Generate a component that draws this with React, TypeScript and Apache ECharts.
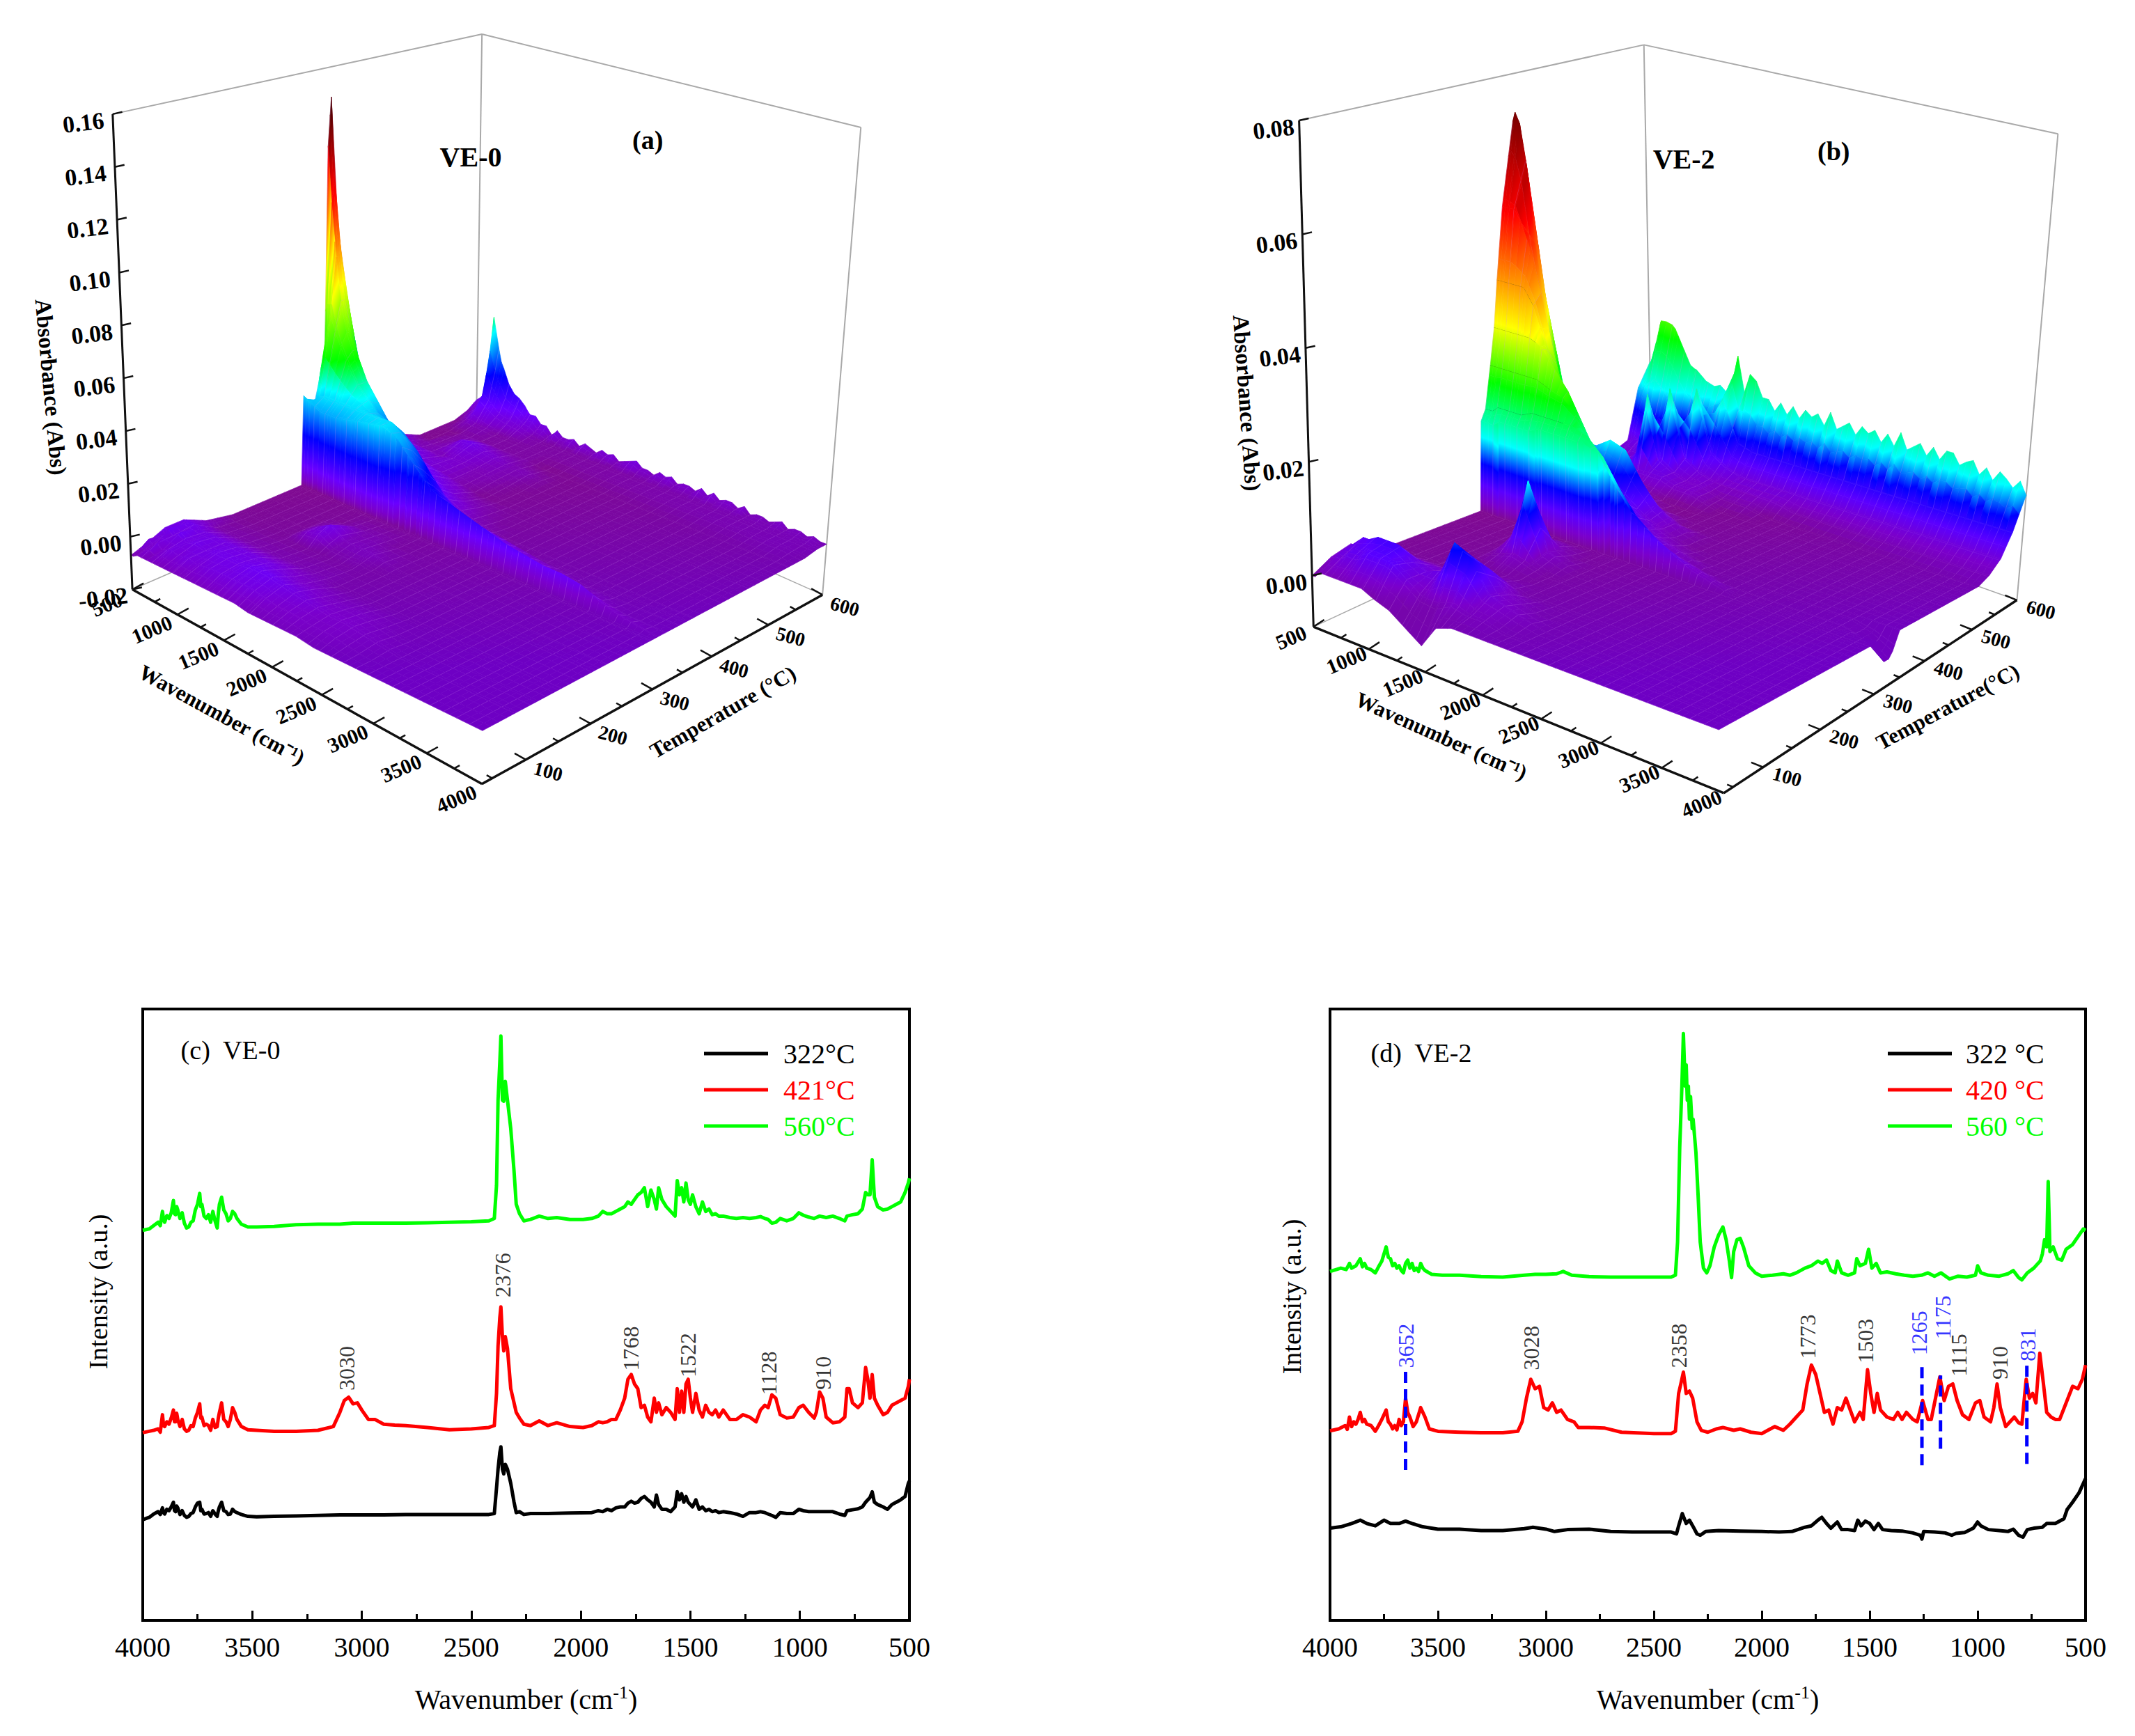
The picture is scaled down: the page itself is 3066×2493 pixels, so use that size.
import React, { useEffect, useRef } from "react";
import * as echarts from "echarts";

// ---------- 3D surface (a) VE-0 : absorbance above the sample plane ----------
const wnGrid = [500,528,570,623,675,763,850,955,1060,1200,1340,1480,1620,1760,1900,2075,2250,2425,2600,2775,2950,3125,3300,3475,3650,3825,4000];
const tempA = [35,58,86,114,148,188,205,221,261,292,298,304,320,339,349,355,363,388,425,464,498,532,560,583,594,600];
const absA = [
[.001,.001,.002,.002,.002,.002,.002,.002,.002,.002,.002,.002,.002,.001,.001,.001,.001],
[.003,.005,.003,.005,.003,.005,.004,.005,.004,.005,.005,.005,.005,.004,.003,.003,.002,.002,.001],
[.006,.004,.007,.005,.007,.005,.006,.005,.006,.006,.006,.007,.007,.006,.005,.004,.003,.003,.002,.001],
[.006,.006,.006,.006,.005,.005,.005,.005,.005,.005,.005,.005,.004,.003,.003,.002,.002,.002,.001],
[.002,.002,.002,.001,.001,.001,.001,.001,.001,.001,.001,.001,.001,.001],
[],
[0,0,0,0,0,0,0,0,0,.003,.004,.001,.001,.001],
[0,0,0,0,0,0,0,0,0,.003,.006,.002,.002,.002,.001],
[0,0,0,0,0,0,0,0,0,0,.001,.001,.001],
[],
[],
[.036,.035,.034,.033,.032,.032,.032,.033,.034,.035,.036,.034,.028,.022,.018,.016,.014,.012,.01,.009,.008,.008,.007,.004,.002,.001],
[.03,.033,.035,.036,.036,.036,.036,.036,.036,.036,.036,.032,.024,.018,.014,.011,.009,.007,.006,.005,.004,.003,.002,.001],
[.05,.06,.066,.06,.055,.048,.042,.038,.034,.032,.03,.025,.018,.012,.008,.006,.005,.004,.003,.002,.001],
[.135,.112,.09,.07,.06,.05,.042,.036,.03,.026,.022,.016,.01,.006,.004,.003,.002,.001],
[.155,.12,.09,.07,.06,.05,.042,.036,.03,.024,.018,.012,.008,.005,.003,.002,.001],
[.1,.09,.075,.06,.05,.042,.035,.03,.024,.02,.015,.01,.007,.004,.002,.001],
[.045,.042,.038,.032,.028,.024,.02,.016,.013,.01,.007,.005,.003,.002,.001],
[.018,.017,.015,.013,.011,.009,.007,.005,.004,.003,.002,.001],
[.004,.004,.003,.003,.002,.002,.002,.002,.003,.003,.002,.002,.001],
[0,0,0,0,.001,.001,.002,.005,.006,.004,.003,.002,.002,.001],
[0,0,0,0,0,.001,.001,.001,.001,.001,.001,.001],
[0,0,.001,.002,.003,.002,.002,.001,.001,.001,.001,.001,.001,.001,.001,.001,.001,.001,.001,.001,.001,.001,.001,.001,.001,.001],
[.002,.002,.004,.006,.012,.009,.006,.005,.004,.002,.001,.001,.001,.001,.001,.001,.001,.001,.001,.001,.001,.001,.001,.001,.001,.001,.001],
[.004,.004,.006,.01,.029,.018,.011,.009,.006,.003,.002,.002,.002,.002,.002,.002,.002,.002,.002,.002,.002,.002,.001,.001,.001,.001,.001],
[.005,.006,.008,.016,.043,.025,.016,.012,.008,.004,.002,.002,.002,.002,.002,.002,.002,.002,.002,.002,.002,.002,.001,.001,.001,.001,.001],
];
const ridgeNoiseA = [0,0,0,.001,0,.001,.001,0,.001,.001,0,.002,.001,.002,0,.003,.001,.001,.002,0,.002,.001,0,.002,.001,.002,0,.001,.002,.003,.001,.001,0,.002,.001,.002,0,.001,.001,0,.002,0,.002,0,.001,.001,0,.002,0,.001,.001,0,.001,.002,0,.001,.001,0,.001,0,0];

// ---------- 3D surface (b) VE-2 ----------
const tempB = [35,63,92,120,148,176,205,233,261,289,294,301,309,320,329,337,351,374,397,419,442,464,487,510,532,555,577,600];
const absB = [
[0,0,.001,.001,.001,.001,.001,.001,0,-.001,-.003,-.005,-.001],
[.002,.002,.003,.003,.004,.004,.005,.005,.005,.003,.001,.001,.002,.001,.001],
[.003,.003,.004,.005,.005,.006,.006,.006,.004,.003,.004,.01,.008,.003,.002,.001],
[.001,.001,.002,.002,.002,.002,.002,.002,.002,.002,.002,.006,.005,.002,.001],
[0,0,0,0,0,0,0,0,0,0,0,.001,.001],
[],
[0,0,0,0,0,0,0,0,0,.001,.002,.001],
[0,0,0,0,0,0,0,0,0,.004,.014,.002,.001],
[0,0,0,0,0,0,0,0,0,.001,.002,.001],
[],
[],
[.017,.017,.017,.017,.018,.018,.018,.018,.019,.019,.019,.019,.018,.013,.009,.006,.004,.002,.001],
[.019,.019,.019,.02,.02,.02,.02,.021,.021,.021,.021,.02,.017,.012,.008,.005,.003,.002,.001],
[.027,.027,.027,.027,.027,.027,.027,.027,.026,.025,.022,.016,.012,.008,.005,.003,.002,.001,0,0,0,0,0,0,0,-.001,-.004],
[.034,.034,.034,.034,.034,.034,.034,.033,.03,.026,.02,.014,.009,.006,.004,.002,.001,0,0,0,0,0,0,0,0,-.001,-.004],
[.043,.043,.043,.043,.043,.043,.04,.033,.026,.02,.015,.011,.007,.004,.003,.002,.001,0,0,0,0,0,0,0,0,-.001,-.003],
[.057,.057,.057,.057,.055,.05,.042,.03,.022,.015,.011,.008,.005,.003,.002,.001],
[.073,.075,.073,.065,.05,.034,.024,.016,.012,.009,.007,.005,.003,.002,.001],
[.05,.048,.045,.038,.028,.02,.014,.012,.012,.014,.013,.008,.004,.002,.001],
[.028,.027,.025,.021,.017,.013,.009,.007,.005,.004,.003,.002,.001],
[.013,.012,.011,.009,.007,.005,.004,.003,.002,.001,.001],
[.006,.006,.005,.004,.003,.002,.002,.001,.001,.001],
[.002,.002,.002,.002,.002,.002,.002,.003,.003,.003,.002,.002,.001],
[.001,.001,.001,.001,.002,.003,.005,.017,.005,.003,.002,.002,.001,.001,.001],
[.002,.002,.002,.002,.003,.003,.004,.005,.018,.005,.003,.002,.002,.002,.002,.002,.001,.001,.001,.001,.001,.001,.001,.001,.001,.001,.001],
[.003,.003,.004,.004,.005,.005,.005,.005,.006,.018,.006,.004,.003,.003,.003,.003,.003,.003,.003,.003,.003,.003,.003,.003,.003,.003,.003],
[.013,.013,.014,.015,.016,.014,.011,.008,.008,.01,.016,.008,.007,.007,.007,.007,.007,.007,.007,.007,.007,.007,.007,.007,.007,.007,.007],
[.0175,.018,.022,.026,.027,.025,.021,.018,.016,.015,.015,.015,.015,.015,.015,.015,.015,.015,.015,.015,.015,.015,.015,.015,.014,.014,.013],
];
const ridgeNoiseB = [0,0,.001,0,.001,.001,.001,0,.001,.001,.001,.001,.002,.001,.003,.009,.002,.006,.005,.002,.002,0,.002,0,.002,0,.002,.001,.002,0,.003,0,.001,.002,0,.002,.001,.002,0,.002,0,.003,0,.001,.002,0,.002,0,.002,.002,0,.001,.002,0,.002,0,.002,.001,0,.002,0];
const contourB = [[309,1270],[320,1130],[329,920],[337,885]];

const wnTicks3d = [500,1000,1500,2000,2500,3000,3500,4000];
const wnMinor3d = [750,1250,1750,2250,2750,3250,3750];
const tempTicks3d = [100,200,300,400,500,600];
const tempMinor3d = [50,150,250,350,450,550];
const absTicksA = [-0.02,0,0.02,0.04,0.06,0.08,0.1,0.12,0.14,0.16];
const absTicksB = [0,0.02,0.04,0.06,0.08];

// ---------- Spectra (c) VE-0 ----------
const c560: number[][] = [[4000,825],[3970,828],[3950,835],[3930,842],[3920,835],[3910,865],[3905,848],[3900,842],[3890,856],[3880,850],[3870,862],[3860,888],[3855,860],[3850,858],[3845,875],[3840,868],[3830,850],[3820,862],[3810,840],[3800,830],[3790,832],[3780,842],[3770,845],[3760,868],[3750,880],[3740,903],[3735,875],[3730,880],[3720,855],[3710,850],[3700,858],[3690,842],[3680,865],[3670,845],[3660,830],[3655,860],[3650,880],[3640,895],[3630,868],[3620,860],[3610,845],[3600,850],[3590,865],[3580,860],[3570,850],[3550,838],[3520,832],[3480,832],[3400,833],[3300,837],[3200,838],[3100,838],[3040,840],[2970,840],[2900,840],[2800,840],[2700,841],[2600,842],[2500,843],[2420,845],[2395,850],[2385,920],[2378,1100],[2370,1180],[2365,1236],[2358,1100],[2352,1098],[2345,1140],[2335,1100],[2320,1040],[2305,950],[2295,880],[2280,860],[2260,845],[2230,848],[2190,855],[2150,850],[2110,852],[2050,848],[1990,848],[1950,850],[1920,855],[1900,865],[1880,860],[1860,860],[1840,865],[1820,870],[1800,875],[1785,885],[1770,880],[1755,890],[1740,900],[1725,905],[1710,915],[1695,875],[1680,910],[1665,890],[1655,870],[1645,915],[1630,890],[1610,875],[1590,865],[1570,855],[1560,930],[1550,900],[1540,915],[1530,885],[1520,925],[1510,890],[1500,880],[1490,900],[1475,875],[1460,860],[1445,885],[1430,865],[1415,870],[1400,858],[1385,860],[1370,855],[1350,855],[1320,852],[1290,850],[1260,852],[1230,850],[1200,852],[1180,854],[1160,850],[1145,848],[1128,840],[1110,842],[1090,850],[1060,845],[1030,850],[1005,862],[985,857],[960,853],[935,850],[910,855],[880,852],[850,855],[820,850],[795,845],[785,855],[760,858],[735,860],[715,870],[700,905],[690,900],[680,900],[670,974],[660,895],[645,875],[620,868],[600,870],[580,875],[560,880],[540,885],[520,905],[505,925],[500,935]];
const c421: number[][] = [[4000,397],[3970,400],[3950,402],[3930,405],[3920,398],[3910,435],[3905,412],[3900,410],[3890,420],[3880,415],[3870,428],[3860,445],[3855,420],[3850,420],[3845,438],[3840,425],[3830,410],[3820,425],[3810,405],[3800,400],[3790,402],[3780,412],[3770,410],[3760,428],[3750,440],[3740,458],[3735,428],[3730,430],[3720,412],[3710,415],[3700,412],[3690,402],[3680,425],[3670,408],[3660,410],[3655,428],[3650,440],[3640,460],[3630,425],[3620,420],[3610,410],[3600,425],[3590,450],[3580,440],[3570,425],[3550,410],[3520,403],[3480,402],[3400,400],[3300,400],[3200,402],[3130,410],[3100,440],[3080,465],[3060,472],[3040,458],[3020,460],[3000,445],[2970,425],[2940,425],[2900,415],[2850,413],[2800,412],[2700,408],[2600,403],[2500,405],[2420,408],[2395,412],[2385,480],[2378,580],[2370,640],[2365,663],[2358,600],[2352,570],[2345,600],[2335,575],[2320,490],[2305,460],[2295,440],[2280,428],[2260,415],[2230,412],[2190,422],[2150,412],[2110,418],[2050,410],[1990,408],[1950,412],[1920,420],[1900,418],[1880,420],[1860,425],[1840,425],[1820,445],[1800,470],[1785,510],[1770,520],[1755,500],[1740,490],[1725,450],[1710,455],[1695,430],[1680,420],[1665,470],[1655,440],[1645,460],[1630,435],[1610,450],[1590,440],[1570,425],[1560,490],[1550,440],[1540,485],[1530,440],[1520,500],[1510,510],[1500,470],[1490,440],[1475,480],[1460,445],[1445,430],[1430,455],[1415,440],[1400,435],[1385,445],[1370,430],[1350,445],[1320,425],[1290,425],[1260,435],[1230,430],[1200,420],[1180,445],[1160,455],[1145,450],[1128,477],[1110,470],[1090,435],[1060,428],[1030,430],[1005,450],[985,455],[960,440],[935,428],[925,440],[910,483],[895,470],[880,430],[850,418],[820,420],[795,430],[785,490],[775,490],[760,460],[735,450],[715,460],[700,535],[690,510],[680,470],[670,520],[660,470],[645,455],[620,435],[600,440],[580,455],[560,460],[540,465],[520,470],[505,495],[500,510]];
const c322: number[][] = [[4000,213],[3970,218],[3950,225],[3930,230],[3920,224],[3910,238],[3905,228],[3900,225],[3890,235],[3880,232],[3870,240],[3860,250],[3855,232],[3850,230],[3845,242],[3840,238],[3830,224],[3820,232],[3810,222],[3800,218],[3790,220],[3780,226],[3770,228],[3760,240],[3750,248],[3740,250],[3735,232],[3730,235],[3720,225],[3710,226],[3700,228],[3690,220],[3680,232],[3670,225],[3660,220],[3655,232],[3650,240],[3640,250],[3630,232],[3620,230],[3610,224],[3600,225],[3590,235],[3580,230],[3570,228],[3550,224],[3520,220],[3480,219],[3400,220],[3300,221],[3200,222],[3100,223],[3000,223],[2900,223],[2800,224],[2600,224],[2420,224],[2395,226],[2385,280],[2378,320],[2370,355],[2365,367],[2358,320],[2352,310],[2345,330],[2335,320],[2320,290],[2305,250],[2295,228],[2280,230],[2260,224],[2230,226],[2150,226],[2050,227],[1950,228],[1920,232],[1900,230],[1880,235],[1860,232],[1840,238],[1820,240],[1800,240],[1785,248],[1770,252],[1755,248],[1740,250],[1725,258],[1710,262],[1695,255],[1680,250],[1665,240],[1655,265],[1645,245],[1630,235],[1610,235],[1590,230],[1570,240],[1560,272],[1550,255],[1540,268],[1530,250],[1520,262],[1510,250],[1500,245],[1490,240],[1475,255],[1460,235],[1445,240],[1430,232],[1415,235],[1400,230],[1385,232],[1370,228],[1350,230],[1320,228],[1290,225],[1260,220],[1230,228],[1200,228],[1180,230],[1160,228],[1145,225],[1128,222],[1110,218],[1090,228],[1060,226],[1030,226],[1005,235],[985,232],[960,230],[910,230],[850,230],[820,225],[795,222],[785,232],[760,234],[735,236],[715,240],[700,250],[680,260],[670,272],[660,250],[645,245],[620,240],[600,235],[580,245],[560,250],[540,255],[520,262],[505,290],[500,295]];
const peaksC: any[][] = [[3070,533,"3030"],[2358,730,"2376"],[1770,575,"1768"],[1512,561,"1522"],[1143,523,"1128"],[895,523,"910"]];

// ---------- Spectra (d) VE-2 ----------
const d560: number[][] = [[4000,738],[3950,745],[3925,742],[3910,755],[3900,745],[3880,750],[3860,765],[3850,748],[3840,755],[3830,745],[3810,742],[3790,735],[3775,748],[3760,760],[3740,790],[3730,768],[3720,765],[3710,750],[3700,755],[3690,745],[3680,750],[3670,740],[3660,735],[3650,755],[3640,762],[3630,745],[3620,755],[3610,740],[3600,745],[3590,738],[3580,755],[3570,745],[3560,740],[3530,732],[3480,730],[3400,730],[3300,727],[3200,726],[3100,730],[3050,732],[3000,732],[2950,733],[2920,738],[2880,730],[2800,727],[2700,726],[2600,726],[2500,726],[2420,726],[2400,730],[2390,800],[2380,1000],[2370,1130],[2363,1241],[2355,1130],[2350,1175],[2345,1100],[2340,1130],[2335,1060],[2330,1108],[2322,1040],[2318,1060],[2305,990],[2295,900],[2285,800],[2270,745],[2255,735],[2240,750],[2220,790],[2200,815],[2180,832],[2165,805],[2150,760],[2140,725],[2130,780],[2115,805],[2100,808],[2085,790],[2060,750],[2030,735],[2000,728],[1950,730],[1900,733],[1870,730],[1840,735],[1800,745],[1770,750],[1740,760],[1720,755],[1700,762],[1680,740],[1660,735],[1650,760],[1630,735],[1600,730],[1570,735],[1560,765],[1545,750],[1520,755],[1505,785],[1490,745],[1470,755],[1450,735],[1420,737],[1380,733],[1340,730],[1300,728],[1260,730],[1230,735],[1200,728],[1170,735],[1130,722],[1090,728],[1050,726],[1010,730],[1000,750],[985,735],[950,730],[900,728],[860,733],[835,740],[810,725],[795,720],[770,735],[740,745],[710,760],[700,775],[690,805],[680,790],[673,928],[665,780],[650,790],[630,765],[610,762],[590,785],[560,795],[530,815],[510,828],[500,825]];
const d420: number[][] = [[4000,401],[3960,405],[3930,412],[3920,404],[3910,430],[3900,410],[3890,420],[3880,415],[3870,425],[3860,440],[3850,420],[3840,425],[3830,415],[3810,412],[3790,400],[3775,412],[3760,425],[3740,445],[3730,420],[3720,415],[3710,405],[3700,412],[3690,403],[3680,425],[3670,412],[3660,420],[3650,470],[3640,440],[3630,430],[3615,410],[3600,420],[3580,450],[3570,440],[3560,430],[3540,405],[3500,400],[3400,398],[3300,397],[3200,397],[3130,400],[3110,420],[3090,470],[3070,510],[3050,490],[3030,495],[3010,450],[2990,445],[2970,460],[2950,440],[2930,445],[2900,425],[2870,420],[2850,408],[2800,408],[2730,407],[2650,398],[2500,395],[2420,395],[2400,400],[2385,480],[2375,500],[2363,525],[2350,480],[2335,485],[2320,470],[2300,420],[2280,402],[2250,398],[2210,405],[2180,408],[2130,402],[2100,405],[2050,398],[2000,395],[1960,405],[1940,410],[1900,402],[1870,415],[1840,430],[1810,445],[1790,500],[1770,540],[1750,520],[1730,480],[1710,440],[1690,445],[1670,415],[1650,450],[1630,445],[1610,470],[1590,445],[1570,420],[1545,440],[1530,425],[1510,530],[1495,480],[1480,440],[1465,480],[1450,445],[1420,430],[1390,425],[1370,440],[1350,425],[1330,440],[1300,425],[1280,420],[1255,465],[1230,425],[1215,425],[1195,470],[1175,515],[1155,465],[1135,495],[1115,500],[1095,465],[1070,435],[1040,425],[1010,460],[990,465],[970,430],[940,420],[925,450],[910,500],[895,450],[870,410],[850,420],[830,430],[810,418],[795,415],[775,510],[760,470],[745,480],[730,460],[712,565],[695,500],[680,440],[660,430],[640,425],[620,425],[590,460],[560,495],[535,490],[515,510],[500,540]];
const d322: number[][] = [[4000,195],[3950,198],[3900,205],[3860,212],[3830,205],[3790,200],[3750,212],[3720,205],[3680,205],[3650,210],[3620,205],[3570,198],[3500,193],[3400,193],[3300,190],[3200,190],[3100,194],[3060,197],[3000,193],[2960,188],[2900,192],[2800,193],[2700,188],[2600,187],[2500,187],[2420,187],[2395,183],[2385,200],[2368,226],[2350,205],[2335,212],[2320,200],[2300,183],[2285,180],[2260,188],[2200,190],[2100,189],[2000,188],[1920,187],[1860,188],[1800,197],[1770,200],[1740,212],[1722,218],[1700,205],[1680,195],[1650,208],[1630,192],[1600,192],[1570,190],[1555,212],[1540,200],[1520,210],[1500,205],[1480,192],[1460,205],[1440,192],[1400,190],[1350,189],[1300,185],[1265,180],[1258,172],[1250,188],[1200,187],[1150,185],[1120,180],[1100,184],[1060,186],[1020,195],[1000,208],[985,200],[950,192],[900,190],[860,188],[835,193],[810,180],[790,176],[770,192],[740,195],[700,197],[680,205],[640,205],[600,215],[585,235],[560,250],[530,270],[510,290],[500,300]];
const peaksDBlack: any[][] = [[3069,576,"3028"],[2383,581,"2358"],[1786,600,"1773"],[1519,591,"1503"],[1087,561,"1115"],[896,545,"910"]];
const peaksDBlue: any[][] = [[3650,581,"3652"],[1271,608,"1265"],[1160,641,"1175"],[767,583,"831"]];
const dashLinesD: number[][] = [[3650,318,533],[1258,328,538],[1172,363,518],[772,331,543]];

const SERIF = "Liberation Serif";
const S = 1.3067;
const stopsA: [number,string][] = [[.003,"#7a00cc"],[.008,"#6a00ff"],[.02,"#0000ff"],[.038,"#00ffff"],[.05,"#00ff00"],[.078,"#ffff00"],[.095,"#ff8000"],[.115,"#ff0000"],[.15,"#500000"]];
const stopsB: [number,string][] = [[.002,"#7a00cc"],[.005,"#5a00ff"],[.009,"#0000ff"],[.014,"#00ffff"],[.024,"#00ff00"],[.035,"#ffff00"],[.045,"#ff8000"],[.056,"#ff0000"],[.078,"#600000"]];

const panelA = {
  ox: 60, oy: 20, temp: tempA, table: absA, noise: ridgeNoiseA, noiseFrom: .97, stops: stopsA, contour: [] as number[][],
  floor: [[170,1080],[826,1445],[1465,1090],[815,800]], top: [[133,188],[835,405],[1537,213],[826,38]],
  plane: [-.008,-.0027,-.0015,-.007], hmin: -0.02, hmax: 0.16, absTicks: absTicksA,
  wnLab: [-48,28], tLab: [42,22], aLab: [-55,16],
  titles: [
    { t: "VE-0", x: 805, y: 268, r: 0, fs: 40 }, { t: "(a)", x: 1137, y: 237, r: 0, fs: 38 },
    { t: "Absorbance (Abs)", x: 17, y: 700, r: -1.48, fs: 33 },
    { t: "Wavenumber (cm⁻¹)", x: 338, y: 1315, r: -0.5, fs: 31 },
    { t: "Temperature (°C)", x: 1278, y: 1310, r: 0.52, fs: 31 },
  ],
};
const panelB = {
  ox: 1760, oy: 20, temp: tempB, table: absB, noise: ridgeNoiseB, noiseFrom: .96, stops: stopsB, contour: contourB,
  floor: [[165,1150],[935,1462],[1485,1100],[800,855]], top: [[138,200],[850,405],[1562,225],[785,58]],
  plane: [0,.001,-.002,-.004], hmin: -0.009, hmax: 0.08, absTicks: absTicksB,
  wnLab: [-42,20], tLab: [45,18], aLab: [-48,16],
  titles: [
    { t: "VE-2", x: 860, y: 272, r: 0, fs: 40 }, { t: "(b)", x: 1141, y: 258, r: 0, fs: 38 },
    { t: "Absorbance (Abs)", x: 40, y: 730, r: -1.5, fs: 33 },
    { t: "Wavenumber (cm⁻¹)", x: 405, y: 1355, r: -0.42, fs: 31 },
    { t: "Temperature(°C)", x: 1355, y: 1300, r: 0.49, fs: 31 },
  ],
};

// ---- unit-square to quad projective map (corners: u0v0, u1v0, u1v1, u0v1) ----
function homography(q: number[][]) {
  const [[x0,y0],[x1,y1],[x2,y2],[x3,y3]] = q;
  const dx1=x1-x2, dx2=x3-x2, sx=x0-x1+x2-x3, dy1=y1-y2, dy2=y3-y2, sy=y0-y1+y2-y3;
  const den=dx1*dy2-dx2*dy1;
  const g=(sx*dy2-dx2*sy)/den, h=(dx1*sy-sx*dy1)/den;
  const a=x1-x0+g*x1, b=x3-x0+h*x3, c=x0, d=y1-y0+g*y1, e=y3-y0+h*y3, f=y0;
  return (u: number, v: number) => { const w=g*u+h*v+1; return [(a*u+b*v+c)/w,(d*u+e*v+f)/w]; };
}
const toU = (wn: number) => (wn-500)/3500;
const toV = (t: number) => (t-35)/565;
const hex = (s: string) => [parseInt(s.slice(1,3),16),parseInt(s.slice(3,5),16),parseInt(s.slice(5,7),16)];
const mix = (a: number[], b: number[], t: number) => a.map((x,i)=>x+(b[i]-x)*t);
const css = (c: number[]) => `rgb(${Math.round(c[0])},${Math.round(c[1])},${Math.round(c[2])})`;
const clamp01 = (x: number) => Math.max(0,Math.min(1,x));

function seg(arr: number[], x: number) {
  let i=0; while (i<arr.length-2 && arr[i+1]<x) i++;
  return [i, arr[i+1]===arr[i]?0:clamp01((x-arr[i])/(arr[i+1]-arr[i]))];
}

function buildSurface(p: any) {
  const us0 = wnGrid.map(toU), vs0 = p.temp.map(toV) as number[];
  const uniq = (a: number[]) => { const s=[...a].sort((x,y)=>x-y); return s.filter((x,i)=>i===0||x-s[i-1]>1e-4); };
  const us = uniq([...us0, ...Array.from({length:61},(_,k)=>k/60)]);
  const vs = uniq([...vs0, ...Array.from({length:49},(_,k)=>k/48)]);
  const cell = (r: number, c: number) => (p.table[r][c] ?? 0) as number;
  const level = (u: number, v: number) => {
    const [a,b,c,d]=p.plane; return (a*(1-u)+b*u)*(1-v)+(d*(1-u)+c*u)*v;
  };
  const F=homography(p.floor), T=homography(p.top);
  const pts: number[][][] = [];
  const H: number[][] = [];
  vs.forEach((v)=>{
    const row: number[]=[], ptr: number[][]=[];
    us.forEach((u)=>{
      const [ci,cf]=seg(us0,u), [ri,rf]=seg(vs0,v);
      let h=(cell(ri,ci)*(1-cf)+cell(ri,ci+1)*cf)*(1-rf)+(cell(ri+1,ci)*(1-cf)+cell(ri+1,ci+1)*cf)*rf;
      const w=clamp01((v-p.noiseFrom)/(1-p.noiseFrom));
      if (w>0) { const k=u*60, k0=Math.floor(k), k1=Math.min(60,k0+1); h+=w*(p.noise[k0]*(1-(k-k0))+p.noise[k1]*(k-k0)); }
      row.push(h);
      const t=(level(u,v)+h-p.hmin)/(p.hmax-p.hmin);
      const f=F(u,v), g=T(u,v);
      ptr.push([p.ox+(f[0]+(g[0]-f[0])*t)/S, p.oy+(f[1]+(g[1]-f[1])*t)/S]);
    });
    H.push(row); pts.push(ptr);
  });
  const onMesh=(x:number,n:number)=>Math.abs(x*n-Math.round(x*n))<1e-4;
  const cells: number[][]=[];
  for (let j=vs.length-2;j>=0;j--) for (let i=0;i<us.length-1;i++) cells.push([i,j]);
  const stopsRgb = p.stops.map((s:any)=>[s[0],hex(s[1])]);
  const back=hex("#7f0a92"), front=hex("#6e00c4");
  const colorOf=(h:number,base:number[])=>{
    if (h<=0) return base;
    let prevH=0, prev=base;
    for (const [sh,sc] of stopsRgb) { if (h<=sh) return mix(prev,sc,(h-prevH)/(sh-prevH)); prevH=sh; prev=sc; }
    return prev;
  };
  const contourRows=(p.contour as number[][]).map(c=>[toV(c[0]),toU(c[1])]);
  const renderItem=(params:any)=>{
    const [i,j]=cells[params.dataIndex];
    const q=[pts[j][i],pts[j][i+1],pts[j+1][i+1],pts[j+1][i]];
    const hs=[H[j][i],H[j][i+1],H[j+1][i+1],H[j+1][i]];
    const um=(us[i]+us[i+1])/2, vm=(vs[j]+vs[j+1])/2;
    const base=mix(back,front,clamp01((um*.7+(1-vm)*.5-.3)/.7));
    let lo=0,hi=0; hs.forEach((h,k)=>{ if(h<hs[lo])lo=k; if(h>hs[hi])hi=k; });
    const hl=hs[lo], hh=hs[hi];
    let fill:any, stroke:any;
    const ax=q[1][0]-q[0][0], ay=q[1][1]-q[0][1], bx=q[3][0]-q[0][0], by=q[3][1]-q[0][1];
    const da=(hs[1]+hs[2]-hs[0]-hs[3])/2, db=(hs[3]+hs[2]-hs[0]-hs[1])/2;
    const det=ax*by-ay*bx;
    const gx=det?(da*by-db*ay)/det:0, gy=det?(ax*db-bx*da)/det:0;
    const g2=gx*gx+gy*gy;
    if (hh-hl<.0006 || g2<=0) {
      fill=css(colorOf((hl+hh)/2,base)); stroke=fill;
    } else {
      const colorStops:any[]=[{offset:0,color:css(colorOf(hl,base))}];
      for (const [sh] of stopsRgb) if (sh>hl&&sh<hh) colorStops.push({offset:(sh-hl)/(hh-hl),color:css(colorOf(sh,base))});
      colorStops.push({offset:1,color:css(colorOf(hh,base))});
      const span=(hh-hl)/g2;
      fill={type:"linear",x:q[lo][0],y:q[lo][1],x2:q[lo][0]+gx*span,y2:q[lo][1]+gy*span,global:true,colorStops};
      stroke=fill;
    }
    const children:any[]=[{type:"polygon",shape:{points:q},style:{fill,stroke,lineWidth:.7}}];
    const meshStyle={stroke:"rgba(205,130,235,0.2)",lineWidth:1};
    if (onMesh(us[i],30)) children.push({type:"line",shape:{x1:q[0][0],y1:q[0][1],x2:q[3][0],y2:q[3][1]},style:meshStyle});
    if (onMesh(vs[j],24)) children.push({type:"line",shape:{x1:q[0][0],y1:q[0][1],x2:q[1][0],y2:q[1][1]},style:meshStyle});
    for (const [cv,cu] of contourRows) if (Math.abs(vs[j]-cv)<1e-4&&us[i+1]<=cu)
      children.push({type:"line",shape:{x1:q[0][0],y1:q[0][1],x2:q[1][0],y2:q[1][1]},style:{stroke:"rgba(20,40,20,0.65)",lineWidth:1}});
    return {type:"group",children};
  };
  return {
    type:"custom",coordinateSystem:"none",silent:true,clip:false,progressive:0,z:3,animation:false,
    data:cells.map(c=>[c[0],c[1]]),renderItem,
  };
}

function frame(p:any, front:boolean) {
  const F=homography(p.floor);
  const R=(q:number[])=>[p.ox+q[0]/S,p.oy+q[1]/S];
  const line=(a:number[],b:number[],stroke:string,w:number)=>{const A=R(a),B=R(b);return {type:"line",shape:{x1:A[0],y1:A[1],x2:B[0],y2:B[1]},style:{stroke,lineWidth:w}};};
  const [L,Fr,Rt,Bk]=p.floor, [TL,,TR,TB]=p.top;
  const children:any[]=[];
  if (!front) {
    const g="#a9a9a9";
    children.push(line(TL,TB,g,2),line(TB,TR,g,2),line(TR,Rt,g,2),line(TB,Bk,g,2),line(L,Bk,g,1.5),line(Bk,Rt,g,1.5));
  } else {
    const k="#111";
    children.push(line(TL,L,k,3),line(L,Fr,k,3.5),line(Fr,Rt,k,3.5));
    const text=(t:string,x:number,y:number,r:number,fs:number)=>{const A=R([x,y]);return {type:"text",x:A[0],y:A[1],rotation:r,style:{text:t,fontFamily:SERIF,fontWeight:"bold",fontSize:fs,fill:"#000",align:"center",verticalAlign:"middle"}};};
    const nU=Math.hypot(Rt[0]-Fr[0],Rt[1]-Fr[1]), dU=[(Rt[0]-Fr[0])/nU,(Rt[1]-Fr[1])/nU];
    const nT=Math.hypot(Fr[0]-L[0],Fr[1]-L[1]), dT=[-(Fr[0]-L[0])/nT,-(Fr[1]-L[1])/nT];
    const tick=(a:number[],d:number[],len:number)=>line(a,[a[0]+d[0]*len,a[1]+d[1]*len],k,2.5);
    wnMinor3d.forEach(w=>children.push(tick(F(toU(w),0),dU,12)));
    wnTicks3d.forEach(w=>{const a=F(toU(w),0);children.push(tick(a,dU,24),text(String(w),a[0]+p.wnLab[0],a[1]+p.wnLab[1],.4,30));});
    tempMinor3d.forEach(t=>children.push(tick(F(1,toV(t)),dT,12)));
    tempTicks3d.forEach(t=>{const a=F(1,toV(t));children.push(tick(a,dT,24),text(String(t),a[0]+p.tLab[0],a[1]+p.tLab[1],-.26,28));});
    p.absTicks.forEach((h:number)=>{
      const f=(h-p.hmin)/(p.hmax-p.hmin);
      const a=[L[0]+(TL[0]-L[0])*f,L[1]+(TL[1]-L[1])*f];
      children.push(line(a,[a[0]+18,a[1]-4],k,2.5),text(h.toFixed(2),a[0]+p.aLab[0],a[1]+p.aLab[1],.12,34));
    });
    p.titles.forEach((t:any)=>children.push(text(t.t,t.x,t.y,t.r,t.fs)));
  }
  return {type:"custom",coordinateSystem:"none",silent:true,clip:false,z:front?5:1,animation:false,data:[[0]],renderItem:()=>({type:"group",children})};
}

const lineSeries=(name:string,data:number[][],color:string,ax:number)=>({
  type:"line",name,data,xAxisIndex:ax,yAxisIndex:ax,showSymbol:false,symbol:"none",z:4,animation:false,silent:true,
  lineStyle:{color,width:5,join:"round"},itemStyle:{color},
});
const labelSeries=(data:any[][],color:string,ax:number)=>({
  type:"scatter",data,xAxisIndex:ax,yAxisIndex:ax,symbolSize:1,z:6,silent:true,itemStyle:{color:"rgba(0,0,0,0)"},animation:false,
  label:{show:true,position:"inside",rotate:90,fontFamily:SERIF,fontSize:32,color,formatter:(d:any)=>d.value[2]},
});
const xAxis=(gi:number)=>({
  type:"value",gridIndex:gi,inverse:true,min:500,max:4000,interval:500,
  axisLine:{show:false},axisTick:{inside:true,length:14,lineStyle:{color:"#000",width:3}},
  minorTick:{show:true,splitNumber:2,length:9,lineStyle:{color:"#000",width:3}},splitLine:{show:false},
  axisLabel:{fontFamily:SERIF,fontSize:40,color:"#000",margin:18,hideOverlap:false,showMinLabel:true,showMaxLabel:true,formatter:(v:number)=>String(v)},
  name:"{a|Wavenumber (cm}{b|-1}{a|)}",nameLocation:"middle",nameGap:90,
  nameTextStyle:{fontFamily:SERIF,color:"#000",rich:{a:{fontFamily:SERIF,fontSize:40,color:"#000"},b:{fontFamily:SERIF,fontSize:26,color:"#000",padding:[0,0,20,0]}}},
});
const yAxis=(gi:number)=>({type:"value",gridIndex:gi,min:0,max:1293,axisLine:{show:false},axisTick:{show:false},axisLabel:{show:false},splitLine:{show:false}});
const legend=(left:number,names:string[],pad:number)=>({
  show:true,orient:"vertical",left,top:1488,itemWidth:92,itemHeight:5,itemGap:12,icon:"rect",selectedMode:false,
  textStyle:{fontFamily:SERIF,fontSize:40,lineHeight:40,padding:[0,0,0,pad]},
  data:[{name:names[0],textStyle:{color:"#000"}},{name:names[1],textStyle:{color:"#ff0000"}},{name:names[2],textStyle:{color:"#00ff00"}}],
});
const gtext=(t:string,x:number,y:number,rot:number,fs:number)=>({type:"text",x,y,rotation:rot,z:10,style:{text:t,fontFamily:SERIF,fontSize:fs,fill:"#000",align:"center",verticalAlign:"middle"}});

export default function App() {
  const ref=useRef<HTMLDivElement>(null);
  useEffect(()=>{
    document.body.style.margin="0";
    const chart=echarts.init(ref.current!,undefined,{renderer:"svg"});
    chart.setOption({
      animation:false,backgroundColor:"#fff",
      grid:[
        {left:205,top:1449,width:1101,height:878,show:true,borderColor:"#000",borderWidth:4,backgroundColor:"transparent",containLabel:false},
        {left:1910,top:1449,width:1085,height:878,show:true,borderColor:"#000",borderWidth:4,backgroundColor:"transparent",containLabel:false},
      ],
      xAxis:[xAxis(0),xAxis(1)],yAxis:[yAxis(0),yAxis(1)],
      legend:[legend(1006,["322°C","421°C","560°C"],17),legend(2706,["322 °C","420 °C","560 °C"],15)],
      graphic:[gtext("Intensity (a.u.)",141,1855,Math.PI/2,38),gtext("Intensity (a.u.)",1855,1862,Math.PI/2,38),gtext("(c)  VE-0",331,1508,0,38),gtext("(d)  VE-2",2041,1512,0,38)],
      series:[
        frame(panelA,false),frame(panelB,false),buildSurface(panelA),buildSurface(panelB),frame(panelA,true),frame(panelB,true),
        lineSeries("560°C",c560,"#00ff00",0),lineSeries("421°C",c421,"#ff0000",0),lineSeries("322°C",c322,"#000",0),labelSeries(peaksC,"#000",0),
        lineSeries("560 °C",d560,"#00ff00",1),lineSeries("420 °C",d420,"#ff0000",1),lineSeries("322 °C",d322,"#000",1),
        labelSeries(peaksDBlack,"#000",1),labelSeries(peaksDBlue,"#0000ff",1),
        ...dashLinesD.map(d=>({type:"line",data:[[d[0],d[1]],[d[0],d[2]]],xAxisIndex:1,yAxisIndex:1,symbol:"none",z:5,silent:true,animation:false,lineStyle:{color:"#0000ff",width:5,type:[16,9]}})),
      ],
    });
    return ()=>chart.dispose();
  },[]);
  return <div ref={ref} style={{position:"absolute",left:0,top:0,width:3066,height:2493}}/>;
}
